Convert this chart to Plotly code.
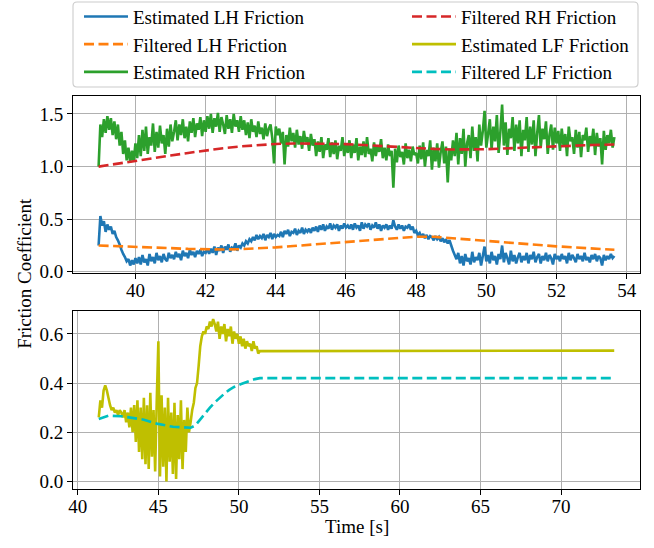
import numpy as np
import plotly.graph_objects as go

# ---------------- data ----------------
# top panel: sampled estimates on a uniform clock starting at T0_TOP
T0_TOP = 38.95
DT_TOP = 0.05

LH_EST = [
    0.25, 0.53,
    0.44, 0.48, 0.38, 0.45, 0.40, 0.43, 0.36, 0.39, 0.33,
    0.30, 0.26, 0.21, 0.17, 0.14, 0.10, 0.12, 0.06, 0.11, 0.07, 0.13, 0.08,
    0.14, 0.07, 0.16, 0.09, 0.12, 0.06, 0.17, 0.10, 0.14, 0.08, 0.18, 0.11, 0.15, 0.09, 0.17, 0.12, 0.10, 0.18, 0.13, 0.16,
    0.12, 0.19, 0.14, 0.17, 0.11, 0.20, 0.15, 0.18, 0.13, 0.21, 0.16, 0.19, 0.14, 0.20, 0.17, 0.21, 0.15, 0.19, 0.18, 0.22,
    0.17, 0.22, 0.18, 0.24, 0.16, 0.23, 0.20, 0.25, 0.18, 0.24, 0.21, 0.26, 0.19, 0.23, 0.22, 0.27, 0.20, 0.25, 0.23, 0.27,
    0.25, 0.29, 0.27, 0.31, 0.29, 0.33, 0.30, 0.35, 0.31, 0.34, 0.32, 0.36, 0.30, 0.35, 0.33, 0.37, 0.31, 0.36, 0.33, 0.35,
    0.34, 0.38, 0.33, 0.39, 0.36, 0.40, 0.34, 0.38, 0.37, 0.41, 0.35, 0.39, 0.37, 0.42, 0.36, 0.40, 0.38, 0.41, 0.37, 0.42,
    0.39, 0.43, 0.38, 0.44, 0.40, 0.45, 0.39, 0.43, 0.41, 0.46, 0.40, 0.44, 0.42, 0.45, 0.39, 0.44, 0.41, 0.46, 0.42, 0.44,
    0.41, 0.45, 0.40, 0.46, 0.42, 0.44, 0.39, 0.47, 0.41, 0.45, 0.43, 0.46, 0.40, 0.44, 0.42, 0.47, 0.41, 0.45, 0.39, 0.44,
    0.42, 0.45, 0.40, 0.44, 0.41, 0.49, 0.43, 0.40, 0.45, 0.41, 0.44, 0.39, 0.43, 0.42, 0.45, 0.40, 0.43, 0.37, 0.39, 0.35,
    0.37, 0.33, 0.36, 0.32, 0.35, 0.31, 0.34, 0.33, 0.30, 0.34, 0.31, 0.33, 0.29, 0.32, 0.28, 0.31, 0.27, 0.30, 0.25, 0.20,
    0.16, 0.12, 0.18, 0.08, 0.15, 0.06, 0.17, 0.10, 0.13, 0.07, 0.19, 0.09, 0.14, 0.11, 0.18, 0.06, 0.15, 0.24, 0.10, 0.16,
    0.08, 0.19, 0.11, 0.15, 0.07, 0.17, 0.12, 0.25, 0.09, 0.18, 0.13, 0.07, 0.20, 0.10, 0.16, 0.08, 0.14, 0.18, 0.09, 0.15,
    0.11, 0.18, 0.08, 0.16, 0.12, 0.19, 0.09, 0.14, 0.17, 0.08, 0.15, 0.11, 0.18, 0.10, 0.16, 0.13, 0.07, 0.17, 0.12, 0.15,
    0.10, 0.17, 0.12, 0.15, 0.08, 0.18, 0.11, 0.16, 0.13, 0.09, 0.17, 0.12, 0.15, 0.10, 0.18, 0.11,
    0.14, 0.09, 0.16, 0.12, 0.17, 0.10, 0.15, 0.13, 0.06, 0.16, 0.11, 0.15, 0.12, 0.17, 0.13, 0.15,
]

RH_EST = [
    1.00, 1.40,
    1.28, 1.45, 1.32, 1.48, 1.35, 1.46, 1.30, 1.43, 1.26,
    1.40, 1.20, 1.33, 1.12, 1.25, 1.06, 1.18, 1.04, 1.15, 1.05, 1.22, 1.08,
    1.30, 1.10, 1.35, 1.15, 1.38, 1.12, 1.28, 1.20, 1.41, 1.14, 1.33, 1.18, 1.39, 1.22, 1.30, 1.12, 1.36, 1.19, 1.40, 1.24,
    1.33, 1.44, 1.25, 1.40, 1.30, 1.45, 1.27, 1.38, 1.24, 1.43, 1.32, 1.46, 1.28, 1.41, 1.35, 1.47, 1.29, 1.44, 1.33, 1.48,
    1.36, 1.50, 1.32, 1.46, 1.38, 1.51, 1.33, 1.47, 1.40, 1.31, 1.49, 1.36, 1.45, 1.32, 1.50, 1.38, 1.44, 1.33, 1.48, 1.35,
    1.44, 1.30, 1.42, 1.27, 1.45, 1.33, 1.39, 1.28, 1.43, 1.31, 1.37, 1.26, 1.41, 1.29, 1.36, 1.40, 1.27, 1.03, 1.38, 1.30,
    1.36, 1.22, 1.33, 1.02, 1.30, 1.19, 1.37, 1.24, 1.32, 1.18, 1.35, 1.21, 1.29, 1.17, 1.34, 1.23, 1.28, 1.15, 1.31, 1.20,
    1.26, 1.10, 1.24, 1.14, 1.28, 1.08, 1.21, 1.16, 1.27, 1.09, 1.23, 1.12, 1.25, 1.07, 1.20, 1.15, 1.28, 1.10, 1.22, 1.13,
    1.25, 1.08, 1.21, 1.13, 1.27, 1.06, 1.19, 1.11, 1.24, 1.09, 1.28, 1.12, 1.17, 1.05, 1.23, 1.10, 1.20, 1.14, 1.26, 1.08,
    1.18, 1.06, 1.21, 1.10, 1.15, 0.80, 1.17, 1.04, 1.20, 1.09, 1.14, 1.02, 1.22, 1.08, 1.16, 1.05, 1.19, 1.11, 1.13, 1.03,
    1.20, 1.07, 1.23, 1.00, 1.16, 1.10, 1.25, 0.97, 1.18, 1.05, 1.22, 0.99, 1.14, 1.24, 1.03, 1.19, 0.85, 1.17, 1.06, 1.25,
    1.10, 1.32, 1.02, 1.27, 1.12, 1.36, 1.00, 1.22, 1.30, 1.08, 1.38, 1.15, 1.28, 1.05, 1.40, 1.20, 1.34, 1.53, 1.18, 1.31,
    1.45, 1.16, 1.38, 1.24, 1.49, 1.13, 1.33, 1.59, 1.20, 1.42, 1.11, 1.36, 1.27, 1.47, 1.15, 1.40, 1.22, 1.44, 1.10, 1.35,
    1.25, 1.47, 1.14, 1.38, 1.21, 1.44, 1.10, 1.32, 1.49, 1.18, 1.36, 1.26, 1.43, 1.12, 1.30, 1.40, 1.16, 1.37, 1.22, 1.34,
    1.15, 1.36, 1.20, 1.31, 1.10, 1.38, 1.24, 1.28, 1.12, 1.35, 1.18, 1.33, 1.09, 1.30, 1.25, 1.37,
    1.14, 1.29, 1.21, 1.36, 1.11, 1.32, 1.19, 1.27, 1.02, 1.34, 1.16, 1.30, 1.22, 1.35, 1.18, 1.28,
]

# top panel: filtered values
LH_FILT_T = [38.95, 39.5, 40.0, 40.5, 41.0, 41.5, 42.0, 42.5, 43.0, 43.5, 44.0, 44.5, 45.0, 45.5,
             46.0, 46.5, 47.0, 47.5, 48.0, 48.5, 49.0, 49.5, 50.0, 50.5, 51.0, 51.5, 52.0, 52.5, 53.0, 53.65]
LH_FILT = [0.250, 0.245, 0.240, 0.232, 0.225, 0.218, 0.214, 0.212, 0.215, 0.222, 0.232, 0.245, 0.258, 0.272,
           0.287, 0.300, 0.315, 0.327, 0.334, 0.333, 0.320, 0.302, 0.288, 0.278, 0.265, 0.252, 0.242, 0.232, 0.222, 0.210]

RH_FILT_T = [38.95, 39.5, 40.0, 40.5, 41.0, 41.5, 42.0, 42.5, 43.0, 43.5, 44.0, 44.5, 45.0, 45.5,
             46.0, 46.5, 47.0, 47.5, 48.0, 48.5, 49.0, 49.5, 50.0, 50.5, 51.0, 51.5, 52.0, 52.5, 53.0, 53.65]
RH_FILT = [1.000, 1.030, 1.055, 1.080, 1.105, 1.130, 1.155, 1.175, 1.192, 1.207, 1.215, 1.220, 1.220, 1.218,
           1.214, 1.205, 1.195, 1.185, 1.175, 1.168, 1.163, 1.162, 1.165, 1.172, 1.180, 1.187, 1.193, 1.200, 1.205, 1.210]

# bottom panel: LF estimate (uniform clock, then held until the end)
T0_LF = 41.3
DT_LF = 0.1
LF_EST = [
    0.26, 0.33, 0.30, 0.37, 0.39, 0.37, 0.34, 0.31, 0.29, 0.30,
    0.28, 0.29, 0.27, 0.29, 0.28,
    0.26, 0.29, 0.24, 0.28, 0.22, 0.30,
    0.20, 0.31, 0.16, 0.33, 0.12, 0.30, 0.09,
    0.34, 0.07, 0.31, 0.05, 0.36, 0.10, 0.29, 0.04, 0.33,
    0.57, 0.02,
    0.35, 0.06, 0.30, 0.00, 0.34, 0.08, 0.28, 0.03, 0.32, 0.01, 0.27, 0.09, 0.33, 0.05, 0.25, 0.12, 0.30, 0.20,
    0.24, 0.29, 0.32, 0.38,
    0.40, 0.47, 0.55, 0.59, 0.61,
    0.60, 0.63, 0.62, 0.65, 0.63, 0.66, 0.64,
    0.61, 0.65, 0.58, 0.63, 0.60, 0.64, 0.57, 0.62, 0.59, 0.63, 0.56, 0.61, 0.58, 0.60,
    0.56, 0.59, 0.55, 0.58, 0.54, 0.57, 0.55, 0.56, 0.53, 0.57, 0.54, 0.55, 0.52, 0.53,
]
LF_HOLD_END_T = 73.3
LF_HOLD = 0.532

LF_FILT_T = [41.3, 41.9, 42.7, 43.5, 44.1, 44.9, 45.5, 45.9, 46.5, 47.0, 47.3, 47.6, 47.9, 48.2, 48.5, 48.8,
             49.1, 49.4, 49.7, 50.1, 50.4, 50.7, 51.0, 51.3, 73.2]
LF_FILT = [0.254, 0.267, 0.265, 0.258, 0.251, 0.235, 0.227, 0.222, 0.220, 0.218, 0.228, 0.252, 0.278, 0.300, 0.321, 0.340,
           0.357, 0.372, 0.384, 0.395, 0.403, 0.410, 0.416, 0.420, 0.420]

# ---------------- build ----------------
t_top_lh = T0_TOP + DT_TOP * np.arange(len(LH_EST))
t_top_rh = T0_TOP + DT_TOP * np.arange(len(RH_EST))
t_lf = list(T0_LF + DT_LF * np.arange(len(LF_EST))) + [LF_HOLD_END_T]
v_lf = LF_EST + [LF_HOLD]

FONT = "Liberation Serif, Times New Roman, serif"
BLUE, ORANGE, GREEN, RED = "#1f77b4", "#ff7f0e", "#2ca02c", "#d62728"
YEL, CYAN = "#bfbf00", "#00bfbf"
LW = 2.6
DASH = "10px,4.5px"

fig = go.Figure()
fig.add_trace(go.Scatter(x=t_top_lh, y=LH_EST, mode="lines", name="Estimated LH Friction",
                         line=dict(color=BLUE, width=LW, simplify=False), xaxis="x", yaxis="y", legend="legend"))
fig.add_trace(go.Scatter(x=LH_FILT_T, y=LH_FILT, mode="lines", name="Filtered LH Friction",
                         line=dict(color=ORANGE, width=LW, dash=DASH), xaxis="x", yaxis="y", legend="legend"))
fig.add_trace(go.Scatter(x=t_top_rh, y=RH_EST, mode="lines", name="Estimated RH Friction",
                         line=dict(color=GREEN, width=LW, simplify=False), xaxis="x", yaxis="y", legend="legend"))
fig.add_trace(go.Scatter(x=RH_FILT_T, y=RH_FILT, mode="lines", name="Filtered RH Friction",
                         line=dict(color=RED, width=LW, dash=DASH), xaxis="x", yaxis="y", legend="legend2"))
fig.add_trace(go.Scatter(x=t_lf, y=v_lf, mode="lines", name="Estimated LF Friction",
                         line=dict(color=YEL, width=LW, simplify=False), xaxis="x2", yaxis="y2", legend="legend2"))
fig.add_trace(go.Scatter(x=LF_FILT_T, y=LF_FILT, mode="lines", name="Filtered LF Friction",
                         line=dict(color=CYAN, width=LW, dash=DASH), xaxis="x2", yaxis="y2", legend="legend2"))

W, H = 654, 548
L, R, T, B = 73, 14, 96, 58.7
PH = H - T - B
PW = W - L - R

def py2paper(py):
    return (H - B - py) / PH

def px2paper(px):
    return (px - L) / PW

axis_common = dict(showline=True, linecolor="black", linewidth=1.1, mirror=True,
                   ticks="outside", ticklen=5, tickwidth=1.1, tickcolor="black",
                   showgrid=True, gridcolor="#b0b0b0", gridwidth=1.1, zeroline=False,
                   tickfont=dict(family=FONT, size=19, color="black"))

leg_common = dict(xref="paper", yref="paper", xanchor="left", yanchor="top",
                  bgcolor="rgba(0,0,0,0)", borderwidth=0, font=dict(family=FONT, size=19, color="black"),
                  itemwidth=44, tracegroupgap=0)

fig.update_layout(
    width=W, height=H,
    margin=dict(l=L, r=R, t=T, b=B, autoexpand=False),
    paper_bgcolor="white", plot_bgcolor="white",
    font=dict(family=FONT, size=19, color="black"),
    xaxis=dict(domain=[0, 1], anchor="y", range=[38.22, 54.38], tickvals=list(range(40, 55, 2)),
               ticklabelstandoff=-5, **axis_common),
    yaxis=dict(domain=[py2paper(273), 1], anchor="x", range=[-0.01, 1.671],
               tickvals=[0.0, 0.5, 1.0, 1.5], tickformat=".1f", **axis_common),
    xaxis2=dict(domain=[0, 1], anchor="y2", range=[39.7, 74.9], tickvals=list(range(40, 75, 5)),
                ticklabelstandoff=-5, **axis_common),
    yaxis2=dict(domain=[0, py2paper(310.7)], anchor="x2", range=[-0.031, 0.695],
                tickvals=[0.0, 0.2, 0.4, 0.6], tickformat=".1f", **axis_common),
    legend=dict(x=px2paper(79), y=py2paper(-2.5), **leg_common),
    legend2=dict(x=px2paper(407), y=py2paper(-2.5), **leg_common),
    showlegend=True,
)

# legend frame (rounded)
x0, x1 = px2paper(73), px2paper(638)
y0, y1 = py2paper(87), py2paper(2)
rx, ry = 4 / PW, 4 / PH
path = (f"M{x0+rx},{y1} L{x1-rx},{y1} Q{x1},{y1} {x1},{y1-ry} L{x1},{y0+ry} Q{x1},{y0} {x1-rx},{y0} "
        f"L{x0+rx},{y0} Q{x0},{y0} {x0},{y0+ry} L{x0},{y1-ry} Q{x0},{y1} {x0+rx},{y1} Z")
fig.add_shape(type="path", path=path, xref="paper", yref="paper",
              line=dict(color="#cccccc", width=1.1), fillcolor="rgba(255,255,255,0.8)", layer="below")

fig.add_annotation(text="Friction Coefficient", xref="paper", yref="paper", x=px2paper(25), y=py2paper(274),
                   textangle=-90, showarrow=False, font=dict(family=FONT, size=19, color="black"),
                   xanchor="center", yanchor="middle")
fig.add_annotation(text="Time [s]", xref="paper", yref="paper", x=0.5, y=py2paper(527),
                   showarrow=False, font=dict(family=FONT, size=19, color="black"),
                   xanchor="center", yanchor="middle")

fig.write_html("out.html", config={"displayModeBar": False},
               post_script="document.body.style.margin='0';document.body.style.overflow='hidden';")
